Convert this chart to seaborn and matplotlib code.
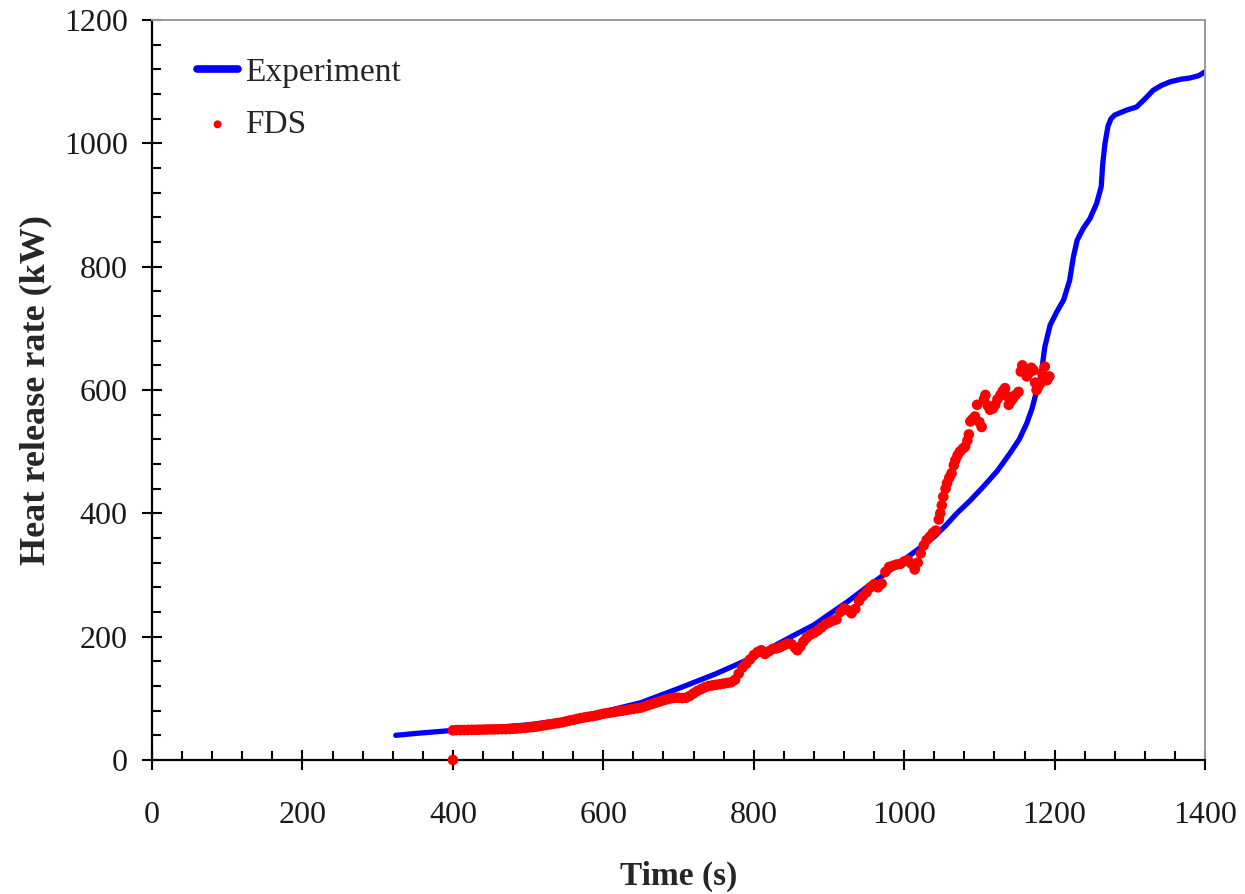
import matplotlib
matplotlib.use("Agg")
import matplotlib.pyplot as plt
from matplotlib.ticker import MultipleLocator
import seaborn as sns
import pandas as pd

# Experiment curve (time s, HRR kW)
exp_time = [324, 350, 400, 450, 500, 550, 600, 650, 700, 750, 800, 850, 880, 900, 925, 950,
            975, 1000, 1020, 1040, 1055, 1070, 1088, 1105, 1124, 1141, 1153, 1163, 1170, 1176,
            1182, 1187, 1194, 1203, 1212, 1220, 1225, 1230, 1238, 1247, 1256, 1262, 1264,
            1267, 1271, 1275, 1280, 1288, 1296, 1309, 1320, 1331, 1342, 1354, 1368, 1380,
            1392, 1400]
exp_hrr = [40, 43, 48, 52, 57, 65, 78, 93, 116, 140, 167, 200, 219, 236, 257, 280,
           302, 325, 343, 362, 380, 400, 421, 443, 469, 498, 520, 546, 570, 598,
           624, 670, 705, 727, 746, 778, 816, 843, 862, 878, 903, 930, 967,
           1000, 1028, 1040, 1046, 1050, 1054, 1059, 1072, 1086, 1094, 1100, 1104, 1106,
           1110, 1116]

# FDS prediction (time s, HRR kW)
fds_time = [400, 400, 405, 410, 415, 420, 425, 430, 435, 440, 445, 450, 455, 460, 465, 470,
            475, 480, 485, 490, 495, 500, 505, 510, 515, 520, 525, 530, 535, 540, 545,
            550, 555, 560, 565, 570, 575, 580, 585, 590, 595, 600, 605, 610, 615, 620,
            625, 630, 635, 640, 645, 650, 655, 660, 665, 670, 675, 680, 685, 690, 695,
            700, 705, 710, 715, 720, 725, 730, 735, 740, 745, 750, 755, 760, 765, 770,
            775, 780, 785, 790, 795, 800, 805, 810, 815, 820, 825, 830, 835, 840, 845,
            850, 855, 858, 862, 866, 870, 875, 880, 885, 890, 895, 900, 905, 910, 915,
            920, 925, 930, 935, 940, 945, 950, 955, 960, 965, 970, 975, 980, 985, 990,
            995, 1000, 1005, 1010, 1014, 1018, 1022, 1026, 1030, 1034, 1038, 1042, 1046,
            1048, 1050, 1052, 1055, 1057, 1060, 1063, 1066, 1068, 1071, 1074, 1078, 1081,
            1084, 1086, 1088, 1091, 1094, 1097, 1100, 1103, 1106, 1108, 1111, 1114, 1118,
            1121, 1124, 1128, 1131, 1134, 1137, 1139, 1142, 1145, 1148, 1152, 1155, 1157,
            1160, 1163, 1166, 1169, 1172, 1174, 1176, 1178, 1181, 1184, 1187, 1190, 1193]
fds_hrr = [0, 48, 48.5, 48.5, 48.6, 48.8, 49, 49, 49.2, 49.3, 49.5, 49.6, 49.7, 49.8, 50, 50,
           50.3, 50.7, 51, 51.5, 52, 52.7, 53.3, 54, 55, 56, 57, 58, 59, 60, 61,
           62.5, 64, 65, 66.5, 68, 69, 70, 71, 72, 73.5, 75, 76, 77, 78, 79,
           80, 81, 82, 83, 84, 85, 87, 89, 91, 93, 95, 97, 98.5, 100, 101,
           101, 100.5, 101, 104, 108, 112, 115, 118, 120, 121, 122, 123, 124, 125, 126,
           130, 140, 150, 156, 163, 170, 175, 178, 172, 176, 180, 181, 183, 186, 189,
           188, 182, 178, 184, 192, 198, 203, 206, 210, 215, 220, 223, 226, 228, 240,
           246, 243, 238, 245, 258, 266, 272, 280, 285, 280, 286, 305, 313, 315, 317,
           318, 322, 324, 318, 309, 320, 335, 348, 357, 362, 368, 372, 390,
           400, 413, 427, 440, 449, 458, 465, 478, 486, 494, 500, 505, 508,
           518, 528, 549, 553, 557, 576, 548, 540, 585, 592, 575, 568, 570,
           576, 585, 592, 598, 603, 590, 576, 582, 587, 592, 597, 630, 640,
           632, 622, 628, 636, 632, 612, 600, 605, 611, 625, 638, 616, 622]

x_ticks = [0, 200, 400, 600, 800, 1000, 1200, 1400]
y_ticks = [0, 200, 400, 600, 800, 1000, 1200]

exp_df = pd.DataFrame({"Time (s)": exp_time, "HRR": exp_hrr})
fds_df = pd.DataFrame({"Time (s)": fds_time, "HRR": fds_hrr})

sns.set_style("white")
plt.rcParams["font.family"] = ["Liberation Serif", "DejaVu Serif"]

fig = plt.figure(figsize=(12.45, 8.94), dpi=100)
ax = fig.add_axes([0.1221, 0.1499, 0.8458, 0.8277])

sns.lineplot(data=exp_df, x="Time (s)", y="HRR", ax=ax, color="#0000FF", lw=3.8,
             label="Experiment", solid_capstyle="round", solid_joinstyle="round", zorder=2)
sns.scatterplot(data=fds_df, x="Time (s)", y="HRR", ax=ax, color="#FF0000", marker="o",
                s=58, linewidth=0, edgecolor="none", label="FDS", zorder=3, clip_on=False)

ax.set_xlim(0, 1400)
ax.set_ylim(0, 1200)
ax.set_xticks(x_ticks)
ax.set_yticks(y_ticks)
ax.xaxis.set_minor_locator(MultipleLocator(40))
ax.yaxis.set_minor_locator(MultipleLocator(40))
ax.tick_params(which="both", bottom=True, left=True, top=False, right=False)
ax.tick_params(which="major", direction="inout", length=15, width=1.5, color="black",
               labelsize=23, labelcolor="#1a1a1a")
ax.tick_params(axis="x", which="major", pad=22)
ax.tick_params(axis="y", which="major", pad=10)
ax.tick_params(which="minor", direction="in", length=6.5, width=1.5, color="black")

for side in ["left", "bottom"]:
    ax.spines[side].set_color("black")
    ax.spines[side].set_linewidth(1.6)
for side in ["top", "right"]:
    ax.spines[side].set_color("#999999")
    ax.spines[side].set_linewidth(1.4)

ax.set_xlabel("Time (s)", fontsize=24, fontweight="bold", labelpad=22)
ax.set_ylabel("Heat release rate (kW)", fontsize=26, fontweight="bold", labelpad=8)

leg = ax.legend(loc="upper left", bbox_to_anchor=(0.014, 0.99), frameon=False,
                fontsize=24, handlelength=1.25, handletextpad=0.2, labelspacing=0.65,
                markerscale=0.75)
for h in leg.legend_handles:
    try:
        h.set_linewidth(5.5)
    except Exception:
        pass

fig.savefig("out.png", dpi=100)
